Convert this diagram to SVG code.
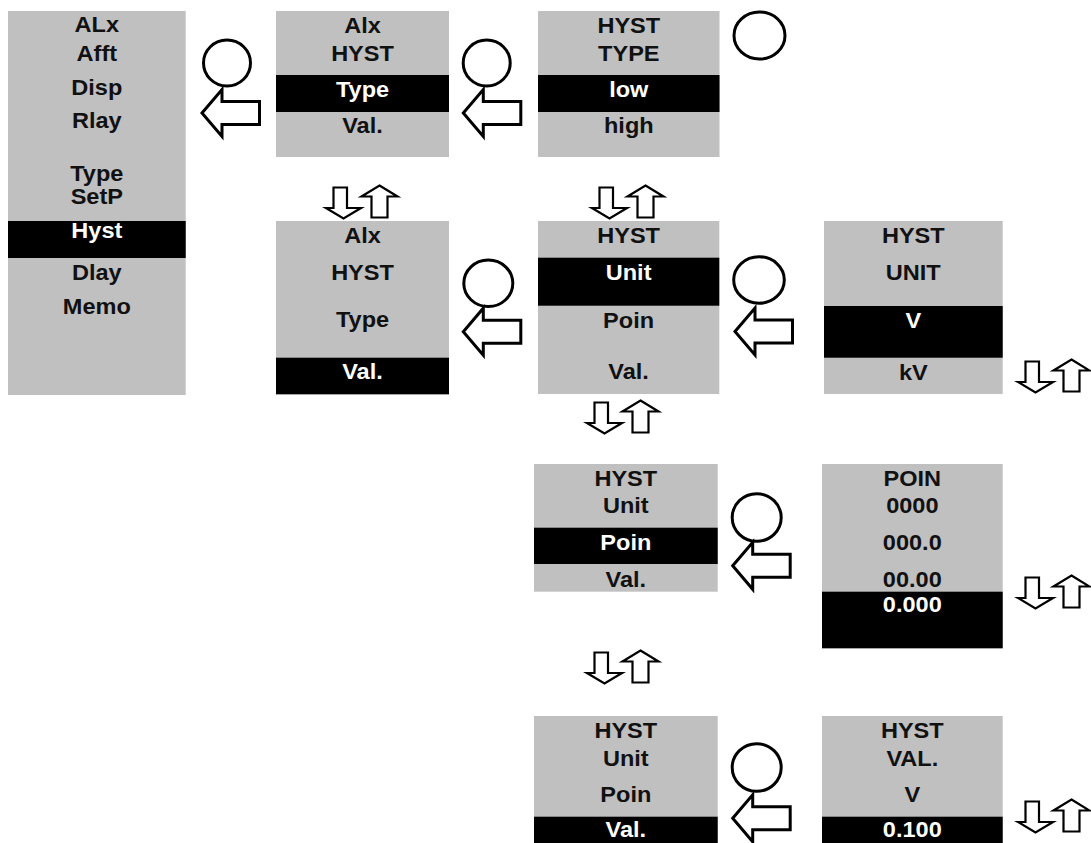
<svg xmlns="http://www.w3.org/2000/svg" xmlns:xlink="http://www.w3.org/1999/xlink" width="1091" height="843" viewBox="0 0 1091 843">
<style>
.bg{fill:#c0c0c0}
.sel{fill:#000}
text{font-family:"Liberation Sans",Arial,sans-serif;font-weight:bold;font-size:22px;text-anchor:middle;fill:#111}
text.w{fill:#fff}
.ring{fill:none;stroke:#000;stroke-width:3}
.arr{fill:#fff;stroke:#000;stroke-width:3;stroke-linejoin:miter}
.ud{fill:#fff;stroke:#000;stroke-width:2.2;stroke-linejoin:miter}
</style>
<defs>
<path id="larrow" class="arr" d="M0,0 L20,-23.5 L20,-11.5 L57.5,-11.5 L57.5,11.5 L20,11.5 L20,23.5 Z"/>
<g id="updown">
<path class="ud" d="M7.5,2.5 H21 V23 H35 L17.5,33.5 L0,23 H7.5 Z"/>
<path class="ud" d="M53.5,0.5 L71.5,11.5 H61.5 V32.5 H45.5 V11.5 H35.5 Z"/>
</g>
</defs>
<rect width="1091" height="843" fill="#fff"/>

<g id="node-menu">
<rect class="bg" x="8" y="11" width="177.7" height="384"/>
<rect class="sel" x="8" y="221" width="177.7" height="37"/>
<g transform="translate(96.8 0) scale(1.07 1)">
<text x="0" y="32">ALx</text>
<text x="0" y="61.5">Afft</text>
<text x="0" y="95">Disp</text>
<text x="0" y="128">Rlay</text>
<text x="0" y="181">Type</text>
<text x="0" y="204">SetP</text>
<text class="w" x="0" y="238">Hyst</text>
<text x="0" y="280">Dlay</text>
<text x="0" y="314">Memo</text>
</g>
</g>

<g id="node-hyst-type">
<rect class="bg" x="276" y="11" width="173" height="146"/>
<rect class="sel" x="276" y="75" width="173" height="37"/>
<g transform="translate(362.5 0) scale(1.07 1)">
<text x="0" y="33">Alx</text>
<text x="0" y="61">HYST</text>
<text class="w" x="0" y="97">Type</text>
<text x="0" y="133">Val.</text>
</g>
</g>

<g id="node-type-select">
<rect class="bg" x="538" y="11" width="181.5" height="146"/>
<rect class="sel" x="538" y="75" width="181.5" height="37"/>
<g transform="translate(628.8 0) scale(1.07 1)">
<text x="0" y="33">HYST</text>
<text x="0" y="61">TYPE</text>
<text class="w" x="0" y="97">low</text>
<text x="0" y="133">high</text>
</g>
</g>

<g id="node-hyst-val">
<rect class="bg" x="276" y="221" width="173" height="173.3"/>
<rect class="sel" x="276" y="357.7" width="173" height="36.6"/>
<g transform="translate(362.5 0) scale(1.07 1)">
<text x="0" y="243.3">Alx</text>
<text x="0" y="280">HYST</text>
<text x="0" y="326.7">Type</text>
<text class="w" x="0" y="379.3">Val.</text>
</g>
</g>

<g id="node-val-unit">
<rect class="bg" x="538" y="221" width="181.3" height="173"/>
<rect class="sel" x="538" y="257.7" width="181.3" height="48"/>
<g transform="translate(628.6 0) scale(1.07 1)">
<text x="0" y="243.3">HYST</text>
<text class="w" x="0" y="280">Unit</text>
<text x="0" y="328">Poin</text>
<text x="0" y="379.3">Val.</text>
</g>
</g>

<g id="node-unit-select">
<rect class="bg" x="824" y="221" width="178.7" height="173"/>
<rect class="sel" x="824" y="306" width="178.7" height="51.7"/>
<g transform="translate(913.3 0) scale(1.07 1)">
<text x="0" y="243.3">HYST</text>
<text x="0" y="280">UNIT</text>
<text class="w" x="0" y="328">V</text>
<text x="0" y="380">kV</text>
</g>
</g>

<g id="node-val-poin">
<rect class="bg" x="534" y="464" width="183.7" height="127.7"/>
<rect class="sel" x="534" y="527.7" width="183.7" height="36.3"/>
<g transform="translate(625.8 0) scale(1.07 1)">
<text x="0" y="486">HYST</text>
<text x="0" y="513.3">Unit</text>
<text class="w" x="0" y="550">Poin</text>
<text x="0" y="586.7">Val.</text>
</g>
</g>

<g id="node-poin-select">
<rect class="bg" x="822" y="464" width="180.7" height="184.3"/>
<rect class="sel" x="822" y="591.7" width="180.7" height="56.6"/>
<g transform="translate(912.3 0) scale(1.07 1)">
<text x="0" y="486">POIN</text>
<text x="0" y="513.3">0000</text>
<text x="0" y="550">000.0</text>
<text x="0" y="586.7">00.00</text>
<text class="w" x="0" y="611.7">0.000</text>
</g>
</g>

<g id="node-val-val">
<rect class="bg" x="534" y="716" width="183.7" height="127"/>
<rect class="sel" x="534" y="816.7" width="183.7" height="26.3"/>
<g transform="translate(625.8 0) scale(1.07 1)">
<text x="0" y="738">HYST</text>
<text x="0" y="766">Unit</text>
<text x="0" y="802.3">Poin</text>
<text class="w" x="0" y="837.3">Val.</text>
</g>
</g>

<g id="node-val-edit">
<rect class="bg" x="822" y="716" width="180.7" height="127"/>
<rect class="sel" x="822" y="816.7" width="180.7" height="26.3"/>
<g transform="translate(912.3 0) scale(1.07 1)">
<text x="0" y="738">HYST</text>
<text x="0" y="766">VAL.</text>
<text x="0" y="802.3">V</text>
<text class="w" x="0" y="837.3">0.100</text>
</g>
</g>

<g id="connectors">
<ellipse class="ring" cx="227" cy="63" rx="23.5" ry="23"/>
<use xlink:href="#larrow" href="#larrow" x="202" y="113"/>
<ellipse class="ring" cx="486.7" cy="63" rx="23.5" ry="23"/>
<use xlink:href="#larrow" href="#larrow" x="463.3" y="113"/>
<ellipse class="ring" cx="759.5" cy="35.5" rx="25.5" ry="23.5"/>
<ellipse class="ring" cx="488.3" cy="283.3" rx="24.5" ry="23.3"/>
<use xlink:href="#larrow" href="#larrow" x="463.3" y="331.7"/>
<ellipse class="ring" cx="759" cy="280" rx="25.3" ry="23.3"/>
<use xlink:href="#larrow" href="#larrow" x="735" y="331.5"/>
<ellipse class="ring" cx="756.7" cy="517.5" rx="24.5" ry="23.8"/>
<use xlink:href="#larrow" href="#larrow" x="732.7" y="565.8"/>
<ellipse class="ring" cx="756.7" cy="767.5" rx="24.5" ry="23.8"/>
<use xlink:href="#larrow" href="#larrow" x="732.7" y="818.3"/>
<use xlink:href="#updown" href="#updown" x="326" y="185"/>
<use xlink:href="#updown" href="#updown" x="592" y="185"/>
<use xlink:href="#updown" href="#updown" x="1018" y="359"/>
<use xlink:href="#updown" href="#updown" x="587" y="400"/>
<use xlink:href="#updown" href="#updown" x="587" y="650"/>
<use xlink:href="#updown" href="#updown" x="1018" y="575"/>
<use xlink:href="#updown" href="#updown" x="1018" y="799"/>
</g>
</svg>
